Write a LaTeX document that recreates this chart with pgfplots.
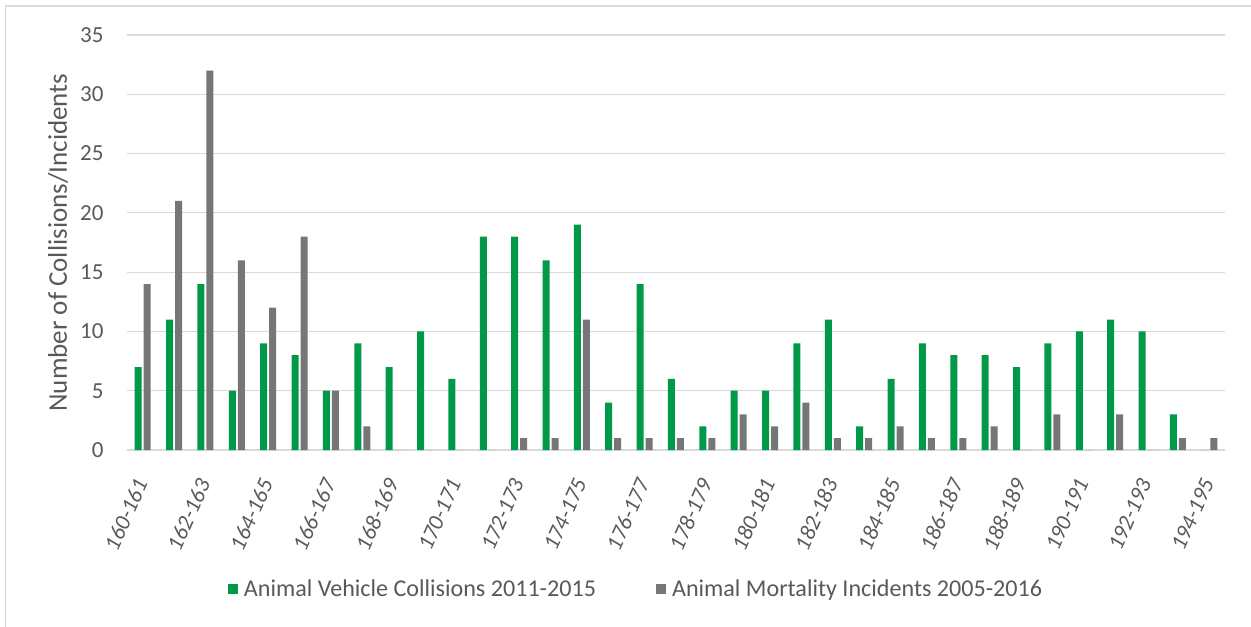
\documentclass[border=0pt]{standalone}
\usepackage{pgfplots}
\pgfplotsset{compat=1.18}
\usepackage{fontspec}
\setmainfont{Carlito}
\definecolor{cgreen}{RGB}{0,153,72}
\definecolor{cgray}{RGB}{118,118,118}
\definecolor{gridc}{RGB}{217,217,217}
\definecolor{txt}{RGB}{89,89,89}
\begin{document}
\begin{tikzpicture}
\useasboundingbox (-127bp,-177bp) rectangle (1124bp,450bp);
\draw[gridc, line width=1.2bp] (-121.5bp,-177bp) -- (-121.5bp,444bp) -- (1124bp,444bp);
\begin{axis}[
  at={(0,0)}, anchor=south west,
  scale only axis, width=1098bp, height=415bp,
  ybar=2bp, bar width=7bp,
  xmin=-0.5, xmax=34.5, ymin=0, ymax=35,
  ytick={0,5,...,35},
  xtick={0,2,...,34},
  xticklabels={160-161,162-163,164-165,166-167,168-169,170-171,172-173,174-175,176-177,178-179,180-181,182-183,184-185,186-187,188-189,190-191,192-193,194-195},
  x tick label style={yshift=-27bp, xshift=0bp, rotate=66, anchor=east, font=\fontsize{22.5bp}{26bp}\selectfont\itshape, text=txt},
  y tick label style={font=\fontsize{23bp}{26bp}\selectfont, text=txt, xshift=-20bp},
  /pgf/number format/assume math mode=true,
  major tick length=0pt,
  ymajorgrids, grid style={draw=gridc, line width=1.2bp},
  axis line style={draw=none},
  ylabel={Number of Collisions/Incidents},
  every axis y label/.style={at={(rel axis cs:0,0.5)}, xshift=-69bp, rotate=90, anchor=center, font=\fontsize{27bp}{30bp}\selectfont, text=txt},
  legend style={at={(0.4636,-0.335)}, anchor=center, draw=none, fill=none,
    font=\fontsize{24.1bp}{28bp}\selectfont, text=txt, legend columns=2,
    /tikz/every even column/.append style={column sep=58bp}},
  legend image code/.code={\fill[#1] (0bp,-5bp) rectangle (10bp,5bp); \path (14bp,0bp);},
]
\addplot[fill=cgreen, draw=none] coordinates {
(0,7) (1,11) (2,14) (3,5) (4,9) (5,8) (6,5) (7,9) (8,7) (9,10)
(10,6) (11,18) (12,18) (13,16) (14,19) (15,4) (16,14) (17,6) (18,2) (19,5)
(20,5) (21,9) (22,11) (23,2) (24,6) (25,9) (26,8) (27,8) (28,7) (29,9)
(30,10) (31,11) (32,10) (33,3) (34,0)};
\addplot[fill=cgray, draw=none] coordinates {
(0,14) (1,21) (2,32) (3,16) (4,12) (5,18) (6,5) (7,2) (8,0) (9,0)
(10,0) (11,0) (12,1) (13,1) (14,11) (15,1) (16,1) (17,1) (18,1) (19,3)
(20,2) (21,4) (22,1) (23,1) (24,2) (25,1) (26,1) (27,2) (28,0) (29,3)
(30,0) (31,3) (32,0) (33,1) (34,1)};
\legend{Animal Vehicle Collisions 2011-2015, Animal Mortality Incidents 2005-2016}
\end{axis}
\end{tikzpicture}
\end{document}
